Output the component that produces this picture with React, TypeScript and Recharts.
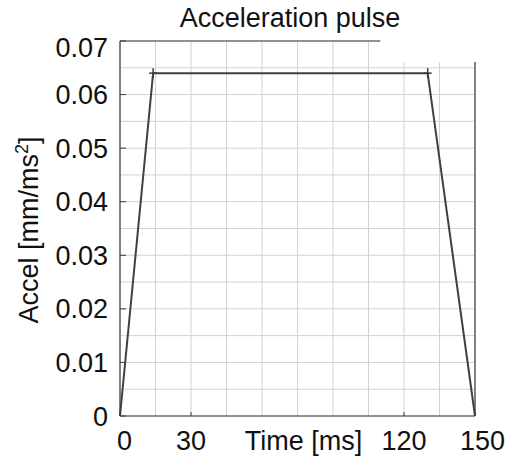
import {CartesianGrid, Line, LineChart, ReferenceArea, ReferenceLine, XAxis, YAxis} from "recharts";

// pulse corners
const timeMs = [0, 14, 130, 150];
const accel = [0, 0.064, 0.064, 0];

const xGridTicks = [0, 15, 30, 45, 60, 75, 90, 105, 120, 135, 150];
const xLabeled = [0, 30, 120, 150];
const yGridTicks = [0, 0.005, 0.01, 0.015, 0.02, 0.025, 0.03, 0.035, 0.04, 0.045, 0.05, 0.055, 0.06, 0.065, 0.07];
const yLabels = ["0", "0.01", "0.02", "0.03", "0.04", "0.05", "0.06", "0.07"];

const title = "Acceleration pulse";
const xTitle = "Time [ms]";

const font = "'Liberation Sans', Arial, sans-serif";
const frame = "#3c3c3c";
const gridColor = "#d2d2d2";

const data = timeMs.map((t, i) => ({time: t, accel: accel[i]}));

const YTick = (props: any) => {
    const {x, y, payload} = props;
    const idx = Math.round(payload.value * 100 * 1000) / 1000;
    if (!Number.isInteger(idx)) return <g/>;
    const label = yLabels[idx];
    const shift = idx === yLabels.length - 1 ? 6.5 : 0;
    return (
        <g>
            <line x1={x} x2={x + 6} y1={y} y2={y} stroke={frame} strokeWidth={1}/>
            <text x={x - 12} y={y + shift} dy={9.5} textAnchor="end" fontSize={27} fontFamily={font} fill="#111">
                {label}
            </text>
        </g>
    );
};

const XTick = (props: any) => {
    const {x, y, payload} = props;
    if (!xLabeled.includes(payload.value)) return <g/>;
    const v = payload.value;
    const dx = v === 0 ? 4.5 : v === 150 ? 7.5 : 0;
    return (
        <g>
            <line x1={x} x2={x} y1={y} y2={y - 4} stroke={frame} strokeWidth={1}/>
            <text x={x + dx} y={y + 34} textAnchor="middle" fontSize={27} fontFamily={font} fill="#111">
                {String(v)}
            </text>
        </g>
    );
};

const PlusDot = (props: any) => {
    const {cx, cy, index} = props;
    if (index === 0 || index === data.length - 1) return <g key={index}/>;
    return (
        <g key={index}>
            <line x1={cx - 4} x2={cx + 4} y1={cy} y2={cy} stroke={frame} strokeWidth={1.5}/>
            <line x1={cx} x2={cx} y1={cy - 5} y2={cy + 5} stroke={frame} strokeWidth={1.5}/>
        </g>
    );
};

const YTitle = (props: any) => {
    const vb = props.viewBox || {x: 0, y: 41, width: 120, height: 375};
    const cy = vb.y + vb.height / 2 + 1.5;
    return (
        <text transform={`translate(38,${cy}) rotate(-90)`} textAnchor="middle" fontSize={27} fontFamily={font} fill="#111">
            Accel [mm/ms<tspan dy={-10} fontSize={18}>2</tspan><tspan dy={10}>]</tspan>
        </text>
    );
};

const XTitle = (props: any) => {
    const vb = props.viewBox || {x: 120, y: 416, width: 355, height: 40};
    return (
        <text x={vb.x + vb.width / 2 + 6} y={vb.y + 34} textAnchor="middle" fontSize={27} fontFamily={font} fill="#111">
            {xTitle}
        </text>
    );
};

const App = () => {
    return (
        <div style={{position: "absolute", left: 0, top: 0, width: 507, height: 456, background: "#fff"}}>
            <div style={{
                position: "absolute", left: 140, top: 5, width: 300, textAlign: "center",
                fontFamily: font, fontSize: 27, lineHeight: "27px", color: "#111", whiteSpace: "nowrap"
            }}>
                {title}
            </div>
            <LineChart width={507} height={456} data={data} margin={{top: 41, right: 32, bottom: 0, left: 0}}>
                <CartesianGrid stroke={gridColor} strokeWidth={1}/>
                <ReferenceArea x1={110} x2={152} y1={0.0661} y2={0.0705} fill="#fff" fillOpacity={1}
                               stroke="none" ifOverflow="visible"/>
                <XAxis dataKey="time" type="number" domain={[0, 150]} ticks={xGridTicks} interval={0}
                       height={40} tickSize={0} tickMargin={0} tickLine={false}
                       axisLine={{stroke: frame, strokeWidth: 1.2}} tick={<XTick/>} label={XTitle}/>
                <YAxis type="number" domain={[0, 0.07]} ticks={yGridTicks} interval={0} width={120}
                       tickSize={0} tickMargin={0} tickLine={false}
                       axisLine={{stroke: frame, strokeWidth: 1.2}} tick={<YTick/>} label={YTitle}/>
                <ReferenceLine segment={[{x: 0, y: 0.07}, {x: 110, y: 0.07}]} stroke={frame} strokeWidth={1.2}/>
                <ReferenceLine segment={[{x: 150, y: 0}, {x: 150, y: 0.0661}]} stroke={frame} strokeWidth={1.2}/>
                <Line type="linear" dataKey="accel" stroke="#404040" strokeWidth={2}
                      dot={PlusDot} activeDot={false} isAnimationActive={false}/>
            </LineChart>
        </div>
    );
};

export default App;
